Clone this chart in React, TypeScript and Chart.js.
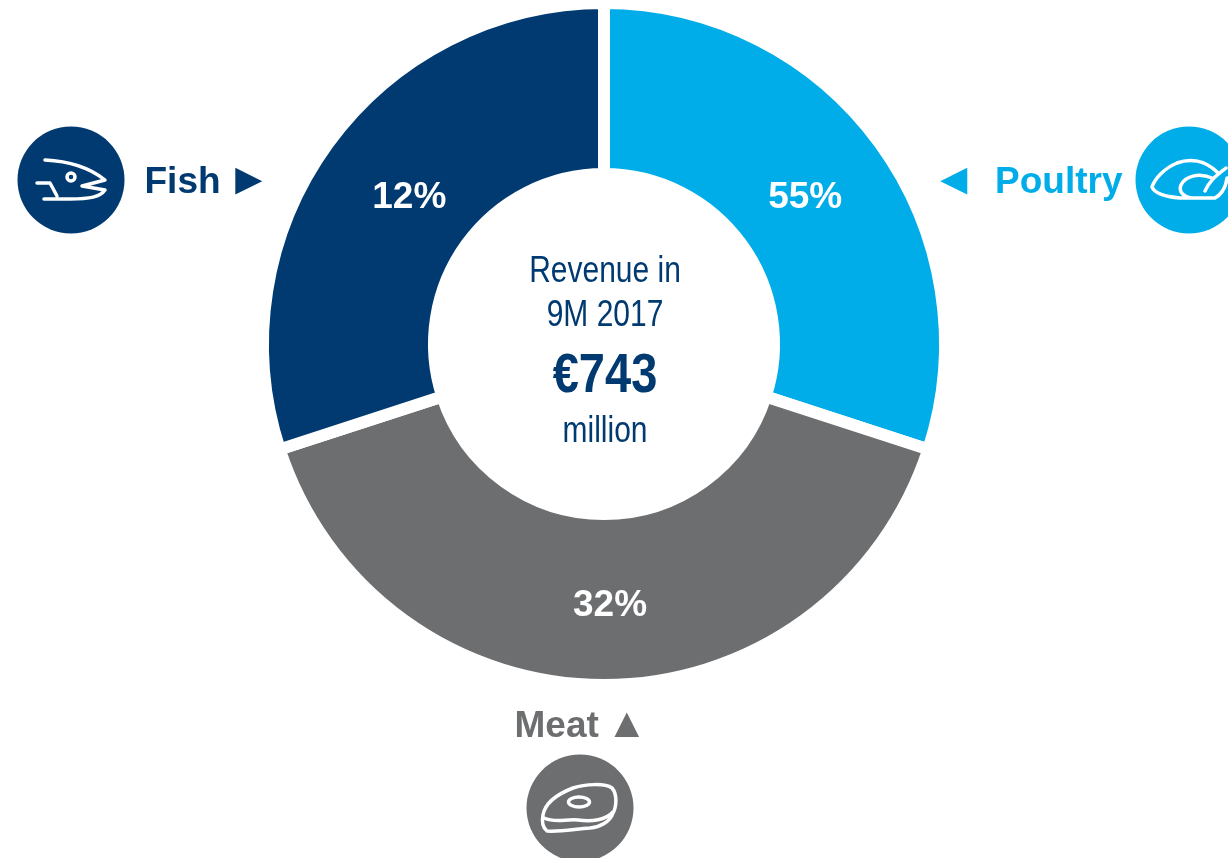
import React, { useEffect, useRef } from "react";
import { Chart, registerables } from "chart.js";

Chart.register(...registerables);

const categories = ["Poultry", "Meat", "Fish"];
// Arc sizes as drawn in the picture (the printed percentages are separate labels).
const arcSizes = [30, 40, 30];
const percentLabels = ["55%", "32%", "12%"];
const colors = ["#00ADE8", "#6D6E70", "#013A71"];
const labelNudges = [[-5.5, 4], [6, 6], [12, 4]];
const navy = "#013A71";
const FONT = '"Liberation Sans", Arial, sans-serif';
const CANVAS_SHIFT = 10;

function drawScaledText(ctx: CanvasRenderingContext2D, text: string, cx: number, baseline: number, font: string, sx: number) {
  ctx.save();
  ctx.translate(cx, baseline);
  ctx.scale(sx, 1);
  ctx.font = font;
  ctx.textAlign = "center";
  ctx.textBaseline = "alphabetic";
  ctx.fillStyle = navy;
  ctx.fillText(text, 0, 0);
  ctx.restore();
}

function disc(ctx: CanvasRenderingContext2D, x: number, y: number, color: string) {
  ctx.fillStyle = color;
  ctx.beginPath();
  ctx.arc(x, y, 53.5, 0, Math.PI * 2);
  ctx.fill();
}

function fishIcon(ctx: CanvasRenderingContext2D) {
  ctx.beginPath();
  ctx.moveTo(45, 160);
  ctx.bezierCurveTo(68, 161, 90, 168, 105, 180);
  ctx.lineTo(82, 186);
  ctx.lineTo(105, 190);
  ctx.bezierCurveTo(100, 197, 90, 199, 70, 199);
  ctx.lineTo(44, 199);
  ctx.moveTo(37, 183);
  ctx.lineTo(50, 183);
  ctx.lineTo(57, 196);
  ctx.stroke();
  ctx.beginPath();
  ctx.arc(71, 177, 4, 0, Math.PI * 2);
  ctx.stroke();
}

function poultryIcon(ctx: CanvasRenderingContext2D) {
  ctx.beginPath();
  ctx.moveTo(1217, 172);
  ctx.bezierCurveTo(1205, 160, 1190, 158, 1177, 163);
  ctx.bezierCurveTo(1165, 168, 1155, 178, 1152, 187);
  ctx.bezierCurveTo(1155, 194, 1168, 197, 1180, 198);
  ctx.lineTo(1215, 198);
  ctx.bezierCurveTo(1222, 194, 1226, 186, 1227, 178);
  ctx.moveTo(1205, 191);
  ctx.bezierCurveTo(1210, 180, 1216, 176, 1226, 168);
  ctx.moveTo(1212, 178);
  ctx.bezierCurveTo(1200, 173, 1186, 175, 1181, 185);
  ctx.bezierCurveTo(1178, 192, 1184, 197, 1192, 198);
  ctx.stroke();
}

function meatIcon(ctx: CanvasRenderingContext2D) {
  ctx.beginPath();
  ctx.moveTo(543, 815);
  ctx.bezierCurveTo(545, 803, 555, 795, 573, 788);
  ctx.bezierCurveTo(585, 784, 605, 783, 612, 788);
  ctx.bezierCurveTo(618, 795, 616, 808, 613, 813);
  ctx.bezierCurveTo(610, 822, 600, 827, 590, 828);
  ctx.bezierCurveTo(575, 829, 560, 832, 547, 831);
  ctx.bezierCurveTo(542, 827, 542, 820, 543, 815);
  ctx.moveTo(544, 818);
  ctx.bezierCurveTo(555, 823, 565, 819, 578, 820);
  ctx.bezierCurveTo(592, 822, 606, 820, 613, 812);
  ctx.stroke();
  ctx.beginPath();
  ctx.ellipse(579, 802, 10.5, 5, 0, 0, Math.PI * 2);
  ctx.stroke();
}

const overlayPlugin = {
  id: "overlay",
  afterDatasetsDraw(chart: Chart) {
    const ctx = chart.ctx;
    const arcs = chart.getDatasetMeta(0).data;
    ctx.save();

    // Percent labels, placed from each arc's own centre point
    ctx.font = `bold 37px ${FONT}`;
    ctx.textAlign = "center";
    ctx.textBaseline = "middle";
    ctx.fillStyle = "#FFFFFF";
    arcs.forEach((arc: any, i: number) => {
      const p = arc.getCenterPoint();
      ctx.fillText(percentLabels[i], p.x + labelNudges[i][0], p.y + labelNudges[i][1]);
    });
    ctx.textBaseline = "alphabetic";

    // Everything below is given in page coordinates
    ctx.translate(0, CANVAS_SHIFT);

    // Centre text
    drawScaledText(ctx, "Revenue in", 605, 282, `37px ${FONT}`, 0.81);
    drawScaledText(ctx, "9M 2017", 605, 326, `37px ${FONT}`, 0.81);
    drawScaledText(ctx, "€743", 605, 392, `bold 56px ${FONT}`, 0.84);
    drawScaledText(ctx, "million", 605, 442, `37px ${FONT}`, 0.81);

    // Category labels
    ctx.textAlign = "left";
    ctx.font = `bold 37px ${FONT}`;
    ctx.fillStyle = colors[2];
    ctx.fillText(categories[2], 144.5, 193);
    ctx.fillStyle = colors[0];
    ctx.fillText(categories[0], 995, 193);
    ctx.fillStyle = colors[1];
    ctx.fillText(categories[1], 514.5, 737);

    // Category pointers
    ctx.font = `bold 45px ${FONT}`;
    ctx.fillStyle = colors[2];
    ctx.fillText("►", 226.5, 194);
    ctx.fillStyle = colors[0];
    ctx.fillText("◄", 931.5, 194);
    ctx.font = `bold 42px ${FONT}`;
    ctx.fillStyle = colors[1];
    ctx.fillText("▲", 606, 737);

    // Icon badges
    disc(ctx, 71, 180, colors[2]);
    disc(ctx, 1189, 180, colors[0]);
    disc(ctx, 580, 808, colors[1]);
    ctx.strokeStyle = "#FFFFFF";
    ctx.lineWidth = 3.5;
    ctx.lineJoin = "round";
    ctx.lineCap = "round";
    fishIcon(ctx);
    poultryIcon(ctx);
    meatIcon(ctx);
    ctx.restore();
  },
};

export default function App() {
  const ref = useRef<HTMLCanvasElement>(null);
  useEffect(() => {
    if (!ref.current) return;
    const chart = new Chart(ref.current, {
      type: "doughnut",
      data: {
        labels: categories,
        datasets: [
          {
            data: arcSizes,
            backgroundColor: colors,
            borderColor: "#FFFFFF",
            borderWidth: 12,
          },
        ],
      },
      options: {
        responsive: false,
        animation: false,
        cutout: "49.85%",
        layout: { padding: { left: 257, top: 7, right: 277, bottom: 167 } },
        plugins: { legend: { display: false }, tooltip: { enabled: false } },
      },
      plugins: [overlayPlugin],
    } as any);
    return () => chart.destroy();
  }, []);
  return (
    <div style={{ position: "absolute", left: 0, top: 0, width: 1228, height: 858, overflow: "hidden", background: "#fff" }}>
      <canvas
        ref={ref}
        width={1228}
        height={858 + CANVAS_SHIFT}
        style={{ display: "block", position: "absolute", left: 0, top: -CANVAS_SHIFT }}
      />
    </div>
  );
}
